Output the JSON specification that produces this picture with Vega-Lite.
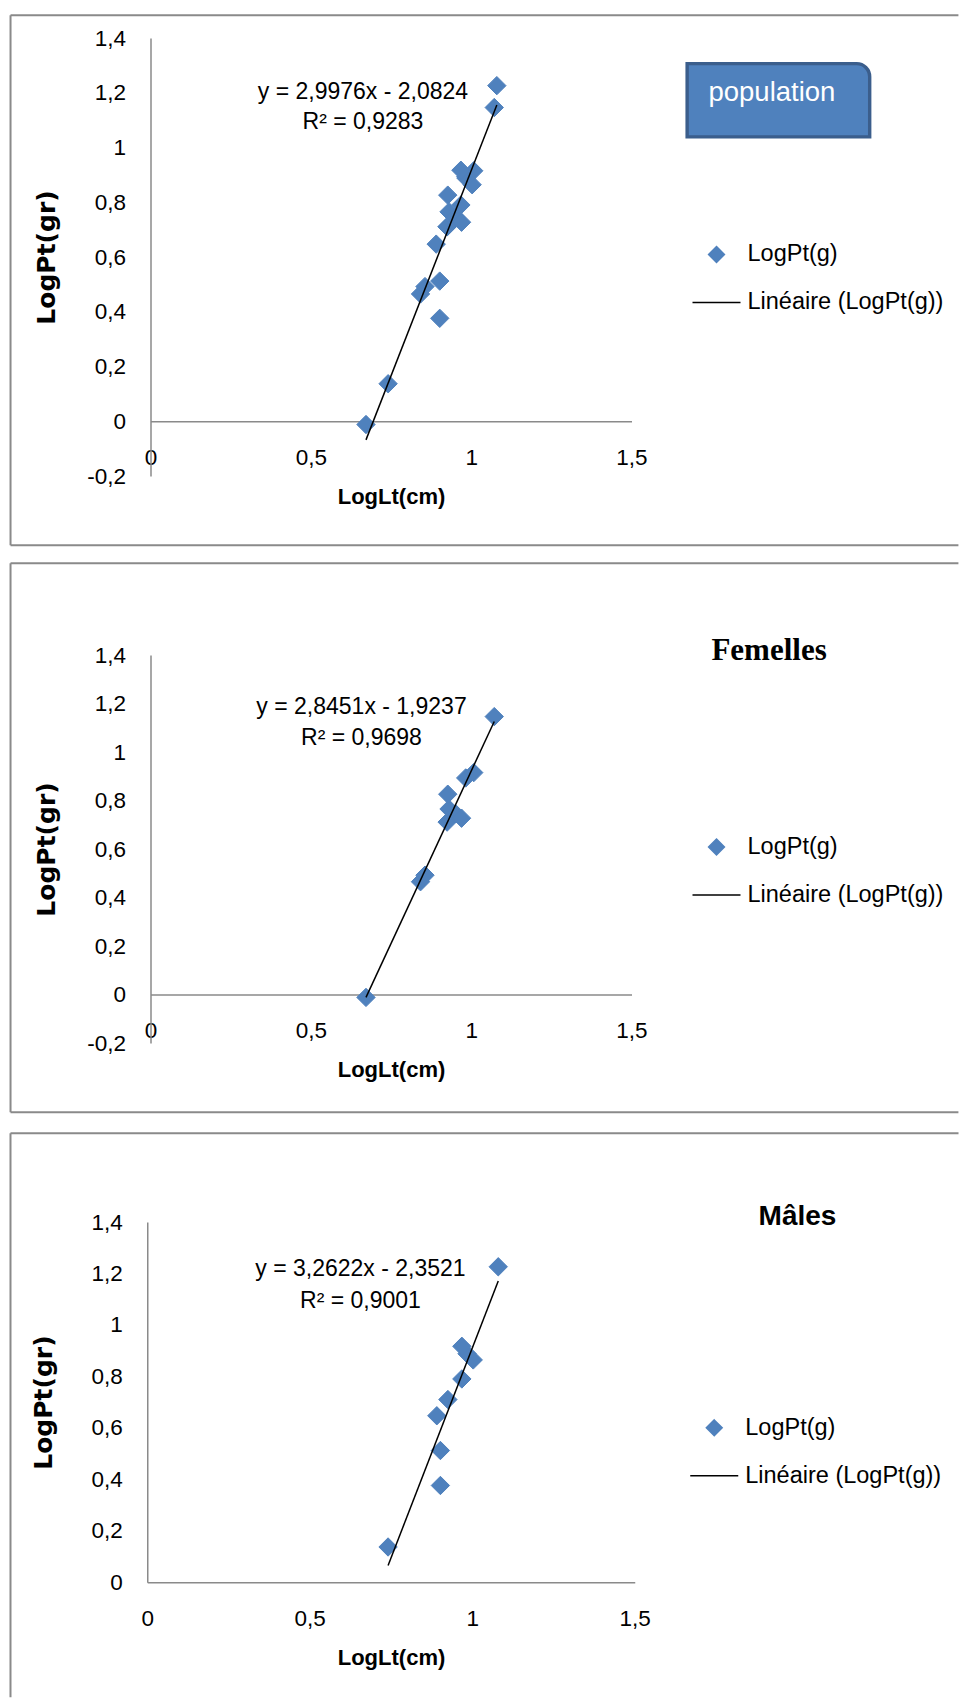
{
  "$schema": "https://vega.github.io/schema/vega-lite/v6.json",
  "padding": {"left": 9, "top": 14, "right": 0, "bottom": 0},
  "background": "white",
  "config": {
    "locale": {"number": {"decimal": ",", "thousands": " ", "grouping": [3], "currency": ["", " €"], "minus": "-"}},
    "view": {"stroke": null},
    "font": "Liberation Sans",
    "axis": {"domainColor": "#8a8a8a", "domainWidth": 1.5, "ticks": false, "tickSize": 0, "grid": false, "labelFont": "Liberation Sans", "labelFontSize": 22.5, "labelColor": "#000000", "titleColor": "#000000", "labelFlush": false, "labelOverlap": false},
    "axisX": {"labelPadding": 36, "labelBaseline": "middle", "titleFont": "Liberation Sans", "titleFontSize": 22, "titleFontWeight": "bold", "titleY": 75, "titleBaseline": "middle"},
    "axisY": {"labelPadding": 25, "titleFont": "DejaVu Sans", "titleFontSize": 25, "titleFontWeight": "bold", "titleX": -104, "titleBaseline": "middle", "titleAngle": -90, "titleAlign": "center"},
    "legend": {"labelFont": "Liberation Sans", "labelFontSize": 23.5, "labelColor": "#000000", "labelOffset": 6, "rowPadding": 11, "labelLimit": 400, "padding": 0, "symbolSize": 2304, "symbolStrokeWidth": 1.5}
  },
  "datasets": {
    "pop_pts": [
      {"LogLt": 0.672, "LogPt": -0.012, "serie": "LogPt(g)"},
      {"LogLt": 0.842, "LogPt": 0.465, "serie": "LogPt(g)"},
      {"LogLt": 0.856, "LogPt": 0.492, "serie": "LogPt(g)"},
      {"LogLt": 0.925, "LogPt": 0.711, "serie": "LogPt(g)"},
      {"LogLt": 0.931, "LogPt": 0.765, "serie": "LogPt(g)"},
      {"LogLt": 0.952, "LogPt": 0.745, "serie": "LogPt(g)"},
      {"LogLt": 0.970, "LogPt": 0.727, "serie": "LogPt(g)"},
      {"LogLt": 0.927, "LogPt": 0.826, "serie": "LogPt(g)"},
      {"LogLt": 0.983, "LogPt": 0.893, "serie": "LogPt(g)"},
      {"LogLt": 1.008, "LogPt": 0.915, "serie": "LogPt(g)"},
      {"LogLt": 1.072, "LogPt": 1.146, "serie": "LogPt(g)"},
      {"LogLt": 0.741, "LogPt": 0.137, "serie": "LogPt(g)"},
      {"LogLt": 0.902, "LogPt": 0.376, "serie": "LogPt(g)"},
      {"LogLt": 0.902, "LogPt": 0.512, "serie": "LogPt(g)"},
      {"LogLt": 0.891, "LogPt": 0.647, "serie": "LogPt(g)"},
      {"LogLt": 0.925, "LogPt": 0.710, "serie": "LogPt(g)"},
      {"LogLt": 0.968, "LogPt": 0.790, "serie": "LogPt(g)"},
      {"LogLt": 1.003, "LogPt": 0.864, "serie": "LogPt(g)"},
      {"LogLt": 0.984, "LogPt": 0.888, "serie": "LogPt(g)"},
      {"LogLt": 0.968, "LogPt": 0.917, "serie": "LogPt(g)"},
      {"LogLt": 1.080, "LogPt": 1.226, "serie": "LogPt(g)"}
    ],
    "pop_fit": [
      {"LogLt": 0.672, "LogPt": -0.068},
      {"LogLt": 1.080, "LogPt": 1.155}
    ],
    "fem_pts": [
      {"LogLt": 0.672, "LogPt": -0.012, "serie": "LogPt(g)"},
      {"LogLt": 0.842, "LogPt": 0.465, "serie": "LogPt(g)"},
      {"LogLt": 0.856, "LogPt": 0.492, "serie": "LogPt(g)"},
      {"LogLt": 0.925, "LogPt": 0.711, "serie": "LogPt(g)"},
      {"LogLt": 0.931, "LogPt": 0.765, "serie": "LogPt(g)"},
      {"LogLt": 0.952, "LogPt": 0.745, "serie": "LogPt(g)"},
      {"LogLt": 0.970, "LogPt": 0.727, "serie": "LogPt(g)"},
      {"LogLt": 0.927, "LogPt": 0.826, "serie": "LogPt(g)"},
      {"LogLt": 0.983, "LogPt": 0.893, "serie": "LogPt(g)"},
      {"LogLt": 1.008, "LogPt": 0.915, "serie": "LogPt(g)"},
      {"LogLt": 1.072, "LogPt": 1.146, "serie": "LogPt(g)"}
    ],
    "fem_fit": [
      {"LogLt": 0.672, "LogPt": -0.012},
      {"LogLt": 1.072, "LogPt": 1.126}
    ],
    "mal_pts": [
      {"LogLt": 0.741, "LogPt": 0.137, "serie": "LogPt(g)"},
      {"LogLt": 0.902, "LogPt": 0.376, "serie": "LogPt(g)"},
      {"LogLt": 0.902, "LogPt": 0.512, "serie": "LogPt(g)"},
      {"LogLt": 0.891, "LogPt": 0.647, "serie": "LogPt(g)"},
      {"LogLt": 0.925, "LogPt": 0.710, "serie": "LogPt(g)"},
      {"LogLt": 0.968, "LogPt": 0.790, "serie": "LogPt(g)"},
      {"LogLt": 1.003, "LogPt": 0.864, "serie": "LogPt(g)"},
      {"LogLt": 0.984, "LogPt": 0.888, "serie": "LogPt(g)"},
      {"LogLt": 0.968, "LogPt": 0.917, "serie": "LogPt(g)"},
      {"LogLt": 1.080, "LogPt": 1.226, "serie": "LogPt(g)"}
    ],
    "mal_fit": [
      {"LogLt": 0.741, "LogPt": 0.065},
      {"LogLt": 1.080, "LogPt": 1.171}
    ]
  },
  "spacing": 179,
  "bounds": "flush",
  "center": true,
  "resolve": {"scale": {"fill": "independent", "stroke": "independent", "shape": "independent"}},
  "vconcat": [
    {
      "width": 481,
      "height": 438,
      "layer": [
        {"data": {"values": [{}]}, "mark": {"type": "rule", "color": "#8a8a8a", "strokeWidth": 2},
         "encoding": {"x": {"datum": -0.4365, "type": "quantitative"}, "x2": {"datum": 2.5195}, "y": {"datum": 1.4831, "type": "quantitative"}}},
        {"data": {"values": [{}]}, "mark": {"type": "rule", "color": "#8a8a8a", "strokeWidth": 2},
         "encoding": {"x": {"datum": -0.4365, "type": "quantitative"}, "x2": {"datum": 2.5195}, "y": {"datum": -0.453, "type": "quantitative"}}},
        {"data": {"values": [{}]}, "mark": {"type": "rule", "color": "#8a8a8a", "strokeWidth": 2},
         "encoding": {"x": {"datum": -0.4365, "type": "quantitative"}, "y": {"datum": 1.4831, "type": "quantitative"}, "y2": {"datum": -0.453}}},
        {"data": {"values": [{}]}, "mark": {"type": "rect", "fill": "#4F81BD", "stroke": "#3B5E8C", "strokeWidth": 3.4, "cornerRadiusTopRight": 13},
         "encoding": {"x": {"datum": 1.6735, "type": "quantitative"}, "x2": {"datum": 2.2428}, "y": {"datum": 1.3063, "type": "quantitative"}, "y2": {"datum": 1.0389}}},
        {"data": {"values": [{}]}, "mark": {"type": "text", "font": "Liberation Sans", "fontSize": 27.5, "align": "left", "baseline": "middle", "color": "#ffffff"},
         "encoding": {"x": {"datum": 1.74, "type": "quantitative"}, "y": {"datum": 1.1982, "type": "quantitative"}, "text": {"value": "population"}}},
        {"data": {"values": [{}]}, "mark": {"type": "text", "font": "Liberation Sans", "fontSize": 23, "align": "center", "baseline": "middle", "color": "#000000"},
         "encoding": {"x": {"datum": 0.6626, "type": "quantitative"}, "y": {"datum": 1.2029, "type": "quantitative"}, "text": {"value": "y = 2,9976x - 2,0824"}}},
        {"data": {"values": [{}]}, "mark": {"type": "text", "font": "Liberation Sans", "fontSize": 23, "align": "center", "baseline": "middle", "color": "#000000"},
         "encoding": {"x": {"datum": 0.6626, "type": "quantitative"}, "y": {"datum": 1.0933, "type": "quantitative"}, "text": {"value": "R² = 0,9283"}}},
        {"data": {"name": "pop_pts"},
         "mark": {"type": "point", "filled": true, "size": 3100, "opacity": 1, "strokeWidth": 1},
         "encoding": {
           "x": {"field": "LogLt", "type": "quantitative", "scale": {"domain": [0, 1.5], "nice": false, "zero": false},
                 "axis": {"title": "LogLt(cm)", "values": [0, 0.5, 1, 1.5], "format": ".1~f", "offset": -54.75}},
           "y": {"field": "LogPt", "type": "quantitative", "scale": {"domain": [-0.2, 1.4], "nice": false, "zero": false},
                 "axis": {"title": "LogPt(gr)", "values": [-0.2, 0, 0.2, 0.4, 0.6, 0.8, 1, 1.2, 1.4], "format": ".1~f"}},
           "fill": {"field": "serie", "type": "nominal",
                    "scale": {"domain": ["LogPt(g)", "Linéaire (LogPt(g))"], "range": ["#4F81BD", "transparent"]},
                    "legend": {"orient": "none", "legendX": 541, "legendY": 191.45, "title": null}},
           "stroke": {"field": "serie", "type": "nominal",
                      "scale": {"domain": ["LogPt(g)", "Linéaire (LogPt(g))"], "range": ["#4F81BD", "#000000"]},
                      "legend": {"orient": "none", "legendX": 541, "legendY": 191.45, "title": null}},
           "shape": {"field": "serie", "type": "nominal",
                     "scale": {"domain": ["LogPt(g)", "Linéaire (LogPt(g))"], "range": ["M0,-0.33L0.33,0L0,0.33L-0.33,0Z", "M-1,0L1,0"]},
                     "legend": {"orient": "none", "legendX": 541, "legendY": 191.45, "title": null}}
         }},
        {"data": {"name": "pop_fit"},
         "mark": {"type": "line", "strokeWidth": 1.5, "stroke": "#000000"},
         "encoding": {
           "x": {"field": "LogLt", "type": "quantitative"},
           "y": {"field": "LogPt", "type": "quantitative"}
         }}
      ]
    },
    {
      "width": 481,
      "height": 388,
      "layer": [
        {"data": {"values": [{}]}, "mark": {"type": "rule", "color": "#8a8a8a", "strokeWidth": 2},
         "encoding": {"x": {"datum": -0.4365, "type": "quantitative"}, "x2": {"datum": 2.5195}, "y": {"datum": 1.778, "type": "quantitative"}}},
        {"data": {"values": [{}]}, "mark": {"type": "rule", "color": "#8a8a8a", "strokeWidth": 2},
         "encoding": {"x": {"datum": -0.4365, "type": "quantitative"}, "x2": {"datum": 2.5195}, "y": {"datum": -0.4856, "type": "quantitative"}}},
        {"data": {"values": [{}]}, "mark": {"type": "rule", "color": "#8a8a8a", "strokeWidth": 2},
         "encoding": {"x": {"datum": -0.4365, "type": "quantitative"}, "y": {"datum": 1.778, "type": "quantitative"}, "y2": {"datum": -0.4856}}},
        {"data": {"values": [{}]}, "mark": {"type": "text", "font": "Liberation Serif", "fontSize": 31, "fontWeight": "bold", "align": "center", "baseline": "middle", "color": "#000000"},
         "encoding": {"x": {"datum": 1.929, "type": "quantitative"}, "y": {"datum": 1.4155, "type": "quantitative"}, "text": {"value": "Femelles"}}},
        {"data": {"values": [{}]}, "mark": {"type": "text", "font": "Liberation Sans", "fontSize": 23, "align": "center", "baseline": "middle", "color": "#000000"},
         "encoding": {"x": {"datum": 0.658, "type": "quantitative"}, "y": {"datum": 1.1866, "type": "quantitative"}, "text": {"value": "y = 2,8451x - 1,9237"}}},
        {"data": {"values": [{}]}, "mark": {"type": "text", "font": "Liberation Sans", "fontSize": 23, "align": "center", "baseline": "middle", "color": "#000000"},
         "encoding": {"x": {"datum": 0.658, "type": "quantitative"}, "y": {"datum": 1.0588, "type": "quantitative"}, "text": {"value": "R² = 0,9698"}}},
        {"data": {"name": "fem_pts"},
         "mark": {"type": "point", "filled": true, "size": 3100, "opacity": 1, "strokeWidth": 1},
         "encoding": {
           "x": {"field": "LogLt", "type": "quantitative", "scale": {"domain": [0, 1.5], "nice": false, "zero": false},
                 "axis": {"title": "LogLt(cm)", "values": [0, 0.5, 1, 1.5], "format": ".1~f", "offset": -48.5}},
           "y": {"field": "LogPt", "type": "quantitative", "scale": {"domain": [-0.2, 1.4], "nice": false, "zero": false},
                 "axis": {"title": "LogPt(gr)", "values": [-0.2, 0, 0.2, 0.4, 0.6, 0.8, 1, 1.2, 1.4], "format": ".1~f"}},
           "fill": {"field": "serie", "type": "nominal",
                    "scale": {"domain": ["LogPt(g)", "Linéaire (LogPt(g))"], "range": ["#4F81BD", "transparent"]},
                    "legend": {"orient": "none", "legendX": 541, "legendY": 167, "title": null}},
           "stroke": {"field": "serie", "type": "nominal",
                      "scale": {"domain": ["LogPt(g)", "Linéaire (LogPt(g))"], "range": ["#4F81BD", "#000000"]},
                      "legend": {"orient": "none", "legendX": 541, "legendY": 167, "title": null}},
           "shape": {"field": "serie", "type": "nominal",
                     "scale": {"domain": ["LogPt(g)", "Linéaire (LogPt(g))"], "range": ["M0,-0.33L0.33,0L0,0.33L-0.33,0Z", "M-1,0L1,0"]},
                     "legend": {"orient": "none", "legendX": 541, "legendY": 167, "title": null}}
         }},
        {"data": {"name": "fem_fit"},
         "mark": {"type": "line", "strokeWidth": 1.5, "stroke": "#000000"},
         "encoding": {
           "x": {"field": "LogLt", "type": "quantitative"},
           "y": {"field": "LogPt", "type": "quantitative"}
         }}
      ]
    },
    {
      "width": 487.5,
      "height": 360.25,
      "layer": [
        {"data": {"values": [{}]}, "mark": {"type": "rule", "color": "#8a8a8a", "strokeWidth": 2},
         "encoding": {"x": {"datum": -0.4208, "type": "quantitative"}, "x2": {"datum": 2.4962}, "y": {"datum": 1.745, "type": "quantitative"}}},
        {"data": {"values": [{}]}, "mark": {"type": "rule", "color": "#8a8a8a", "strokeWidth": 2},
         "encoding": {"x": {"datum": -0.4208, "type": "quantitative"}, "y": {"datum": 1.745, "type": "quantitative"}, "y2": {"datum": -0.447}}},
        {"data": {"values": [{}]}, "mark": {"type": "text", "font": "Liberation Sans", "fontSize": 28, "fontWeight": "bold", "align": "center", "baseline": "middle", "color": "#000000"},
         "encoding": {"x": {"datum": 2.0008, "type": "quantitative"}, "y": {"datum": 1.4186, "type": "quantitative"}, "text": {"value": "Mâles"}}},
        {"data": {"values": [{}]}, "mark": {"type": "text", "font": "Liberation Sans", "fontSize": 23, "align": "center", "baseline": "middle", "color": "#000000"},
         "encoding": {"x": {"datum": 0.656, "type": "quantitative"}, "y": {"datum": 1.219, "type": "quantitative"}, "text": {"value": "y = 3,2622x - 2,3521"}}},
        {"data": {"values": [{}]}, "mark": {"type": "text", "font": "Liberation Sans", "fontSize": 23, "align": "center", "baseline": "middle", "color": "#000000"},
         "encoding": {"x": {"datum": 0.656, "type": "quantitative"}, "y": {"datum": 1.092, "type": "quantitative"}, "text": {"value": "R² = 0,9001"}}},
        {"data": {"name": "mal_pts"},
         "mark": {"type": "point", "filled": true, "size": 3100, "opacity": 1, "strokeWidth": 1},
         "encoding": {
           "x": {"field": "LogLt", "type": "quantitative", "scale": {"domain": [0, 1.5], "nice": false, "zero": false},
                 "axis": {"title": "LogLt(cm)", "values": [0, 0.5, 1, 1.5], "format": ".1~f"}},
           "y": {"field": "LogPt", "type": "quantitative", "scale": {"domain": [0, 1.4], "nice": false, "zero": false},
                 "axis": {"title": "LogPt(gr)", "values": [0, 0.2, 0.4, 0.6, 0.8, 1, 1.2, 1.4], "format": ".1~f"}},
           "fill": {"field": "serie", "type": "nominal",
                    "scale": {"domain": ["LogPt(g)", "Linéaire (LogPt(g))"], "range": ["#4F81BD", "transparent"]},
                    "legend": {"orient": "none", "legendX": 542, "legendY": 180.85, "title": null}},
           "stroke": {"field": "serie", "type": "nominal",
                      "scale": {"domain": ["LogPt(g)", "Linéaire (LogPt(g))"], "range": ["#4F81BD", "#000000"]},
                      "legend": {"orient": "none", "legendX": 542, "legendY": 180.85, "title": null}},
           "shape": {"field": "serie", "type": "nominal",
                     "scale": {"domain": ["LogPt(g)", "Linéaire (LogPt(g))"], "range": ["M0,-0.33L0.33,0L0,0.33L-0.33,0Z", "M-1,0L1,0"]},
                     "legend": {"orient": "none", "legendX": 542, "legendY": 180.85, "title": null}}
         }},
        {"data": {"name": "mal_fit"},
         "mark": {"type": "line", "strokeWidth": 1.5, "stroke": "#000000"},
         "encoding": {
           "x": {"field": "LogLt", "type": "quantitative"},
           "y": {"field": "LogPt", "type": "quantitative"}
         }}
      ]
    }
  ]
}
